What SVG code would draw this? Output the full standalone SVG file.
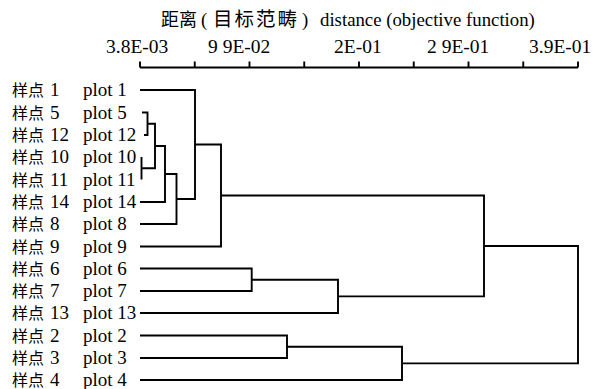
<svg xmlns="http://www.w3.org/2000/svg" width="608" height="389" viewBox="0 0 608 389">
<style>
.c{font-family:"Noto Sans CJK SC","Noto Sans CJK JP",sans-serif;font-size:16px;fill:#000}
.ln{fill:none;stroke:#000;stroke-width:1.9;stroke-linejoin:miter;stroke-linecap:butt}
</style>
<rect width="608" height="389" fill="#fff"/>
<g id="title">
<text x="161" y="26" class="c" style="font-size:18px">距离</text>
<text x="213" y="26" class="c" style="font-size:19.5px;letter-spacing:2px">目标范畴</text>
<g font-family="Liberation Serif, Times New Roman, DejaVu Serif, serif" font-size="18.8">
<text x="201" y="26">(</text>
<text x="302" y="26">)</text>
<text x="320" y="26">distance (objective function)</text>
</g>
</g>
<g id="axis">
<g font-family="Liberation Serif, Times New Roman, DejaVu Serif, serif" font-size="19.5">
<text x="106" y="53">3.8E-03</text>
<text x="208" y="53">9 9E-02</text>
<text x="334" y="53">2E-01</text>
<text x="427" y="53">2 9E-01</text>
<text x="529" y="53">3.9E-01</text>
</g>
<path class="ln" d="M140 67.5H578M140 61.5V67.5M194.75 61.5V67.5M249.5 61.5V67.5M304.25 61.5V67.5M359 61.5V67.5M413.75 61.5V67.5M468.5 61.5V67.5M523.25 61.5V67.5M578 61.5V67.5"/>
</g>
<g font-family="Liberation Serif, Times New Roman, DejaVu Serif, serif" font-size="19">
<g id="leaf-1"><text x="12" y="96" class="c">样点</text><text x="50" y="96">1</text><text x="83" y="96">plot 1</text></g>
<g id="leaf-5"><text x="12" y="118.5" class="c">样点</text><text x="50" y="118.5">5</text><text x="83" y="118.5">plot 5</text></g>
<g id="leaf-12"><text x="12" y="141" class="c">样点</text><text x="50" y="141">12</text><text x="83" y="141">plot 12</text></g>
<g id="leaf-10"><text x="12" y="163" class="c">样点</text><text x="50" y="163">10</text><text x="83" y="163">plot 10</text></g>
<g id="leaf-11"><text x="12" y="185.5" class="c">样点</text><text x="50" y="185.5">11</text><text x="83" y="185.5">plot 11</text></g>
<g id="leaf-14"><text x="12" y="208" class="c">样点</text><text x="50" y="208">14</text><text x="83" y="208">plot 14</text></g>
<g id="leaf-8"><text x="12" y="230" class="c">样点</text><text x="50" y="230">8</text><text x="83" y="230">plot 8</text></g>
<g id="leaf-9"><text x="12" y="252.5" class="c">样点</text><text x="50" y="252.5">9</text><text x="83" y="252.5">plot 9</text></g>
<g id="leaf-6"><text x="12" y="274.5" class="c">样点</text><text x="50" y="274.5">6</text><text x="83" y="274.5">plot 6</text></g>
<g id="leaf-7"><text x="12" y="297" class="c">样点</text><text x="50" y="297">7</text><text x="83" y="297">plot 7</text></g>
<g id="leaf-13"><text x="12" y="319" class="c">样点</text><text x="50" y="319">13</text><text x="83" y="319">plot 13</text></g>
<g id="leaf-2"><text x="12" y="341.5" class="c">样点</text><text x="50" y="341.5">2</text><text x="83" y="341.5">plot 2</text></g>
<g id="leaf-3"><text x="12" y="363.5" class="c">样点</text><text x="50" y="363.5">3</text><text x="83" y="363.5">plot 3</text></g>
<g id="leaf-4"><text x="12" y="385.5" class="c">样点</text><text x="50" y="385.5">4</text><text x="83" y="385.5">plot 4</text></g>
</g>
<g id="connectors">
<path class="ln" d="M142 112.5H147.5V135H144"/>
<path class="ln" d="M141.5 157V179.5"/>
<path class="ln" d="M147.5 123.75H155V168.25H141.5"/>
<path class="ln" d="M155 146H165V202H140"/>
<path class="ln" d="M165 174H176.5V224H140"/>
<path class="ln" d="M140 90H195V199H176.5"/>
<path class="ln" d="M195 144.5H221V246.5H140"/>
<path class="ln" d="M140 268.5H251.7V291H140"/>
<path class="ln" d="M251.7 279.75H338V313H140"/>
<path class="ln" d="M221 195.5H484V296.4H338"/>
<path class="ln" d="M140 335.5H287V358H140"/>
<path class="ln" d="M287 346.75H402V380H140"/>
<path class="ln" d="M484 246H578V363.4H402"/>
</g>
</svg>
